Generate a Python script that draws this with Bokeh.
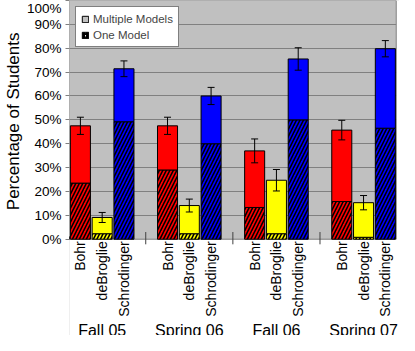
import math
from bokeh.plotting import figure
from bokeh.models import (ColumnDataSource, FixedTicker, Whisker, TeeHead,
                          Range1d, Legend, LegendItem, Title)
from bokeh.core.properties import value
from bokeh.embed import file_html
from bokeh.resources import INLINE

# ---- data ----
semesters = ["Fall 05", "Spring 06", "Fall 06", "Spring 07"]
models = ["Bohr", "deBroglie", "Schrodinger"]

total_bohr = [47.5, 47.5, 37.0, 45.7]
total_debroglie = [9.1, 14.1, 24.7, 15.3]
total_schrodinger = [71.4, 60.0, 75.5, 79.8]

one_bohr = [23.5, 29.0, 13.3, 15.8]
one_debroglie = [2.3, 2.3, 2.3, 0.8]
one_schrodinger = [49.2, 40.0, 50.0, 46.5]

err_bohr = [3.6, 3.6, 5.0, 4.1]
err_debroglie = [2.1, 2.7, 4.5, 3.0]
err_schrodinger = [3.3, 3.6, 4.7, 3.4]

y_ticks = [0, 10, 20, 30, 40, 50, 60, 70, 80, 90, 100]
y_tick_labels = ["0%", "10%", "20%", "30%", "40%", "50%", "60%", "70%", "80%", "90%", "100%"]

series_label_multi = "Multiple Models"
series_label_one = "One Model"
y_title = "Percentage of Students"

# ---- styles / layout ----
FONT = "Liberation Sans"
W, H = 399, 335
FRAME_PX = H - 8       # drawable frame height (the figure keeps a small bottom border)
PLOT_PX = 233          # height of the grey plot area
STRIP_PX = FRAME_PX - PLOT_PX  # white strip under it for the category texts
GREY_BG = "#C0C0C0"
GRID = "#808080"
colors = {"Bohr": "#FF0000", "deBroglie": "#FFFF00", "Schrodinger": "#0000FF"}
totals = {"Bohr": total_bohr, "deBroglie": total_debroglie, "Schrodinger": total_schrodinger}
ones = {"Bohr": one_bohr, "deBroglie": one_debroglie, "Schrodinger": one_schrodinger}
errs = {"Bohr": err_bohr, "deBroglie": err_debroglie, "Schrodinger": err_schrodinger}

y_top = y_ticks[-1]
unit_px = PLOT_PX / y_top
y_bottom = -STRIP_PX / unit_px

slots_per_group = len(models) + 1
n_slots = len(semesters) * slots_per_group - 1
x_lo, x_hi = -0.5, n_slots - 0.5
x_pad = 0.15

p = figure(width=W, height=H, output_backend="svg", toolbar_location=None,
           x_range=Range1d(x_lo, x_hi + x_pad), y_range=Range1d(y_bottom, y_top),
           min_border_top=0, min_border_right=0, min_border_left=10, min_border_bottom=0,
           background_fill_color=GREY_BG, border_fill_color="white",
           outline_line_color=None, x_axis_location=None)

p.xgrid.visible = False
p.ygrid.grid_line_color = GRID
p.ygrid.grid_line_width = 1
p.ygrid.ticker = FixedTicker(ticks=y_ticks)

# white strip under the plot area, white sliver right of it, plot-area border
p.quad(left=[x_lo - 1], right=[x_hi + 1], bottom=[y_bottom - 1], top=[0],
       fill_color="white", line_color=None)
p.quad(left=[x_hi], right=[x_hi + 1], bottom=[y_bottom - 1], top=[y_top + 1],
       fill_color="white", line_color=None)
p.quad(left=[x_lo], right=[x_hi], bottom=[0], top=[y_top],
       fill_color=None, line_color=GRID, line_width=1)

for mi, m in enumerate(models):
    xs = [si * slots_per_group + mi for si in range(len(semesters))]
    tot = totals[m]
    one = ones[m]
    er = errs[m]
    src = ColumnDataSource(dict(x=xs, total=tot, one=one,
                                upper=[t + e for t, e in zip(tot, er)],
                                lower=[t - e for t, e in zip(tot, er)]))
    p.vbar(x="x", width=0.92, bottom=0, top="one", source=src, fill_color=colors[m],
           hatch_pattern="/", hatch_color="black", hatch_scale=7, hatch_weight=1.6,
           line_color="black", line_width=1)
    p.vbar(x="x", width=0.92, bottom="one", top="total", source=src, fill_color=colors[m],
           line_color="black", line_width=1)
    w = Whisker(source=src, base="x", upper="upper", lower="lower", dimension="height",
                line_color="black", line_width=1, level="annotation",
                upper_head=TeeHead(size=7, line_color="black", line_width=1),
                lower_head=TeeHead(size=7, line_color="black", line_width=1))
    p.add_layout(w)

# group separator marks at the gap slots, crossing the base line
gap_x = [si * slots_per_group + len(models) for si in range(len(semesters) - 1)]
p.segment(x0=gap_x, y0=[-5 / unit_px] * len(gap_x), x1=gap_x, y1=[7 / unit_px] * len(gap_x),
          line_color="#404040", line_width=1)

# category texts (rotated) under the base line
cat_x, cat_text = [], []
for si in range(len(semesters)):
    for mi, m in enumerate(models):
        cat_x.append(si * slots_per_group + mi)
        cat_text.append(m)
csrc = ColumnDataSource(dict(x=cat_x, y=[-2 / unit_px] * len(cat_x), text=cat_text))
p.text(x="x", y="y", text="text", source=csrc, angle=math.pi / 2,
       text_align="right", text_baseline="middle", text_font=value(FONT),
       text_font_size="14px", text_color="black")

# semester texts
grp_x = [si * slots_per_group + (len(models) - 1) / 2 for si in range(len(semesters))]
gsrc = ColumnDataSource(dict(x=grp_x, y=[y_bottom + 4.5 / unit_px] * len(grp_x), text=semesters))
p.text(x="x", y="y", text="text", source=gsrc, text_align="center",
       text_baseline="alphabetic", text_font=value(FONT), text_font_size="16px",
       text_color="black")

# legend proxies (drawn outside the visible range)
r_multi = p.vbar(x=[-10], width=0.9, top=[1], fill_color=GREY_BG, line_color="black")
r_one = p.vbar(x=[-10], width=0.9, top=[1], fill_color="white", line_color="black",
               hatch_pattern="/", hatch_color="black", hatch_scale=4, hatch_weight=1.8)
legend = Legend(items=[LegendItem(label=series_label_multi, renderers=[r_multi]),
                       LegendItem(label=series_label_one, renderers=[r_one])],
                location="top_left", margin=6, padding=5, spacing=3,
                glyph_width=8, glyph_height=8, label_height=13, label_standoff=4,
                label_text_font=FONT, label_text_font_size="11.5px",
                border_line_color="black", border_line_width=1,
                background_fill_color="white", background_fill_alpha=1)
p.add_layout(legend)

# y axis (ticks and labels only on the plot area)
ya = p.yaxis[0]
ya.ticker = FixedTicker(ticks=y_ticks)
ya.major_label_overrides = {t: l for t, l in zip(y_ticks, y_tick_labels)}
ya.major_label_text_font = FONT
ya.major_label_text_font_size = "13.5px"
ya.major_label_text_color = "black"
ya.major_label_standoff = 4
ya.major_tick_out = 4
ya.major_tick_in = 0
ya.minor_tick_out = 0
ya.minor_tick_in = 0
ya.major_tick_line_color = GRID
ya.axis_line_color = None

# y title: its upper end placed a fixed distance below the top of the plot area
p.add_layout(Title(text=y_title, align="right", offset=32,
                   text_font=FONT, text_font_size="17px", text_font_style="normal",
                   text_color="black", standoff=2), "left")

open("out.html", "w").write(file_html(p, INLINE))
